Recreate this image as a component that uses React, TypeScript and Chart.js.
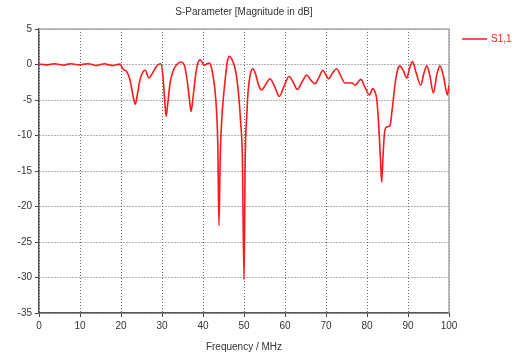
import React, { useEffect, useRef } from "react";
import { Chart, registerables } from "chart.js";

Chart.register(...registerables);

const chartTitle = "S-Parameter [Magnitude in dB]";
const xAxisTitle = "Frequency / MHz";
const seriesLabel = "S1,1";

const xTicks = [0, 10, 20, 30, 40, 50, 60, 70, 80, 90, 100];
const yTicks = [5, 0, -5, -10, -15, -20, -25, -30, -35];

const freqMHz = [
  0, 1, 2, 3, 4, 5, 6, 7, 8, 9, 10, 11, 12, 13, 14, 15, 16, 17, 18, 19, 19.8,
  20.4, 21.4, 22.2, 23.0, 23.5, 24.0, 24.6, 25.4, 25.9, 26.8, 27.6, 28.4, 29.2,
  29.7, 30.2, 30.6, 31.0, 31.4, 32.0, 32.8, 33.6, 34.6, 35.4, 36.2, 36.7, 37.1,
  37.5, 38.2, 38.8, 39.3, 39.8, 40.3, 41.0, 41.5, 42.0, 42.5, 42.9, 43.3, 43.6,
  43.9, 44.2, 44.6, 45.0, 45.4, 45.9, 46.4, 47.0, 47.8, 48.3, 48.8, 49.2, 49.6,
  50.0, 50.3, 50.7, 51.0, 51.5, 52.1, 52.8, 53.5, 54.3, 55.3, 56.3, 57.4, 58.6,
  59.8, 61.0, 62.0, 63.0, 64.2, 65.3, 66.3, 67.3, 68.3, 69.2, 70.0, 70.6, 71.6,
  72.6, 73.6, 74.6, 75.6, 76.3, 77.1, 77.8, 78.5, 79.5, 80.6, 81.4, 81.9, 82.4,
  82.9, 83.3, 83.6, 83.9, 84.3, 84.8, 85.6, 86.2, 86.9, 87.5, 88.0, 88.8, 89.7,
  90.4, 91.1, 92.0, 93.1, 93.9, 94.6, 95.3, 96.2, 97.0, 97.8, 98.7, 99.6, 100,
];

const s11dB = [
  0.05, 0.0, -0.05, 0.05, 0.1, 0.0, -0.1, 0.05, 0.1, 0.0, -0.05, 0.05, 0.1, 0.0,
  -0.15, 0.0, 0.1, -0.05, -0.15, 0.0, 0.05,
  -0.6, -1.0, -2.2, -4.6, -5.6, -4.2, -2.2, -1.0, -0.8, -1.9, -1.3, -0.5, 0.05,
  0.1, -1.5, -4.5, -7.3, -5.5, -2.5, -0.8, 0.0, 0.35, 0.0, -2.5, -5.0, -6.6,
  -5.0, -1.5, 0.3, 0.65, 0.3, -0.1, 0.1, 0.2, -0.3, -1.8, -3.5, -6.5, -11,
  -22.7, -13, -7.5, -4.5, -2.2, 0.3, 1.15, 0.8, -0.5, -2.2, -5.0, -8.3, -13,
  -30.3, -13, -7, -3.8, -1.5, -0.6, -1.3, -2.8, -3.6, -2.8, -2.0, -3.0, -4.5,
  -3.0, -1.7, -2.5, -3.5, -2.4, -1.5, -2.2, -2.7, -1.8, -0.8, -1.5, -2.0, -1.2,
  -0.6, -1.6, -2.6, -2.6, -2.6, -2.9, -2.5, -2.1, -3.2, -4.3, -3.4, -3.8, -5.0,
  -9.0, -13.5, -16.6, -13, -9.5, -8.8, -8.6, -6.0, -2.5, -0.7, -0.2, -0.8, -1.9,
  -0.5, 0.4, -1.2, -2.9, -1.2, -0.2, -1.5, -4.0, -1.5, -0.2, -1.8, -4.3, -2.9,
];

const FONT = "'Liberation Sans', Arial, sans-serif";
const LINE_COLOR = "#ff1a1a";

export default function App() {
  const canvasRef = useRef<HTMLCanvasElement | null>(null);

  useEffect(() => {
    const canvas = canvasRef.current;
    if (!canvas) return;

    const framePlugin = {
      id: "frameAndLegend",
      beforeDatasetsDraw(chart: any) {
        const { ctx, chartArea } = chart;
        ctx.save();
        ctx.strokeStyle = "#a8a8a8";
        ctx.lineWidth = 1.5;
        ctx.beginPath();
        ctx.moveTo(chartArea.left, chartArea.top);
        ctx.lineTo(chartArea.right, chartArea.top);
        ctx.lineTo(chartArea.right, chartArea.bottom);
        ctx.stroke();
        ctx.restore();
      },
      afterDraw(chart: any) {
        const { ctx, chartArea } = chart;
        const y = chartArea.top + 10;
        const x0 = chartArea.right + 13;
        ctx.save();
        ctx.strokeStyle = LINE_COLOR;
        ctx.lineWidth = 1.5;
        ctx.beginPath();
        ctx.moveTo(x0, y);
        ctx.lineTo(x0 + 25, y);
        ctx.stroke();
        ctx.fillStyle = LINE_COLOR;
        ctx.font = `10px ${FONT}`;
        ctx.textBaseline = "middle";
        ctx.textAlign = "left";
        ctx.fillText(seriesLabel, x0 + 29, y);
        ctx.restore();
      },
    };

    const chart = new Chart(canvas, {
      type: "line",
      data: {
        datasets: [
          {
            label: seriesLabel,
            data: freqMHz.map((f, i) => ({ x: f, y: s11dB[i] })),
            borderColor: LINE_COLOR,
            backgroundColor: LINE_COLOR,
            borderWidth: 1.6,
            pointRadius: 0,
            cubicInterpolationMode: "monotone",
            fill: false,
          },
        ],
      },
      options: {
        responsive: false,
        animation: false,
        devicePixelRatio: 1,
        layout: { padding: { left: 0, right: 70, top: 0, bottom: 0 } },
        plugins: {
          legend: { display: false },
          tooltip: { enabled: false },
          title: {
            display: true,
            text: chartTitle,
            fullSize: false,
            color: "#333",
            font: { family: FONT, size: 10, weight: "normal" },
            padding: { top: 6, bottom: 11 },
          },
        },
        scales: {
          x: {
            type: "linear",
            min: 0,
            max: 100,
            afterBuildTicks: (s: any) => {
              s.ticks = xTicks.map((v) => ({ value: v }));
            },
            afterFit: (s: any) => {
              s.height = 40;
            },
            ticks: {
              color: "#333",
              font: { family: FONT, size: 10 },
              padding: 3,
              maxRotation: 0,
              autoSkip: false,
            },
            grid: {
              color: "#666",
              lineWidth: 1,
              tickLength: 4,
              tickColor: "#444",
              tickBorderDash: [],
            },
            border: { display: true, color: "#555", width: 1.5, dash: [1, 2] },
            title: {
              display: true,
              text: xAxisTitle,
              color: "#333",
              font: { family: FONT, size: 10 },
              padding: { top: 4, bottom: 0 },
            },
          },
          y: {
            type: "linear",
            min: -35,
            max: 5,
            afterBuildTicks: (s: any) => {
              s.ticks = yTicks.map((v) => ({ value: v }));
            },
            afterFit: (s: any) => {
              s.width = 39;
            },
            ticks: {
              color: "#333",
              font: { family: FONT, size: 10 },
              padding: 3,
              autoSkip: false,
            },
            grid: {
              color: "#666",
              lineWidth: 1,
              tickLength: 4,
              tickColor: "#444",
              tickBorderDash: [],
            },
            border: { display: true, color: "#555", width: 1.5, dash: [1, 2] },
          },
        },
      },
      plugins: [framePlugin],
    } as any);

    return () => chart.destroy();
  }, []);

  return (
    <div
      style={{
        position: "absolute",
        left: 0,
        top: 0,
        width: 519,
        height: 353,
        background: "#fff",
      }}
    >
      <canvas ref={canvasRef} width={519} height={353} />
    </div>
  );
}
